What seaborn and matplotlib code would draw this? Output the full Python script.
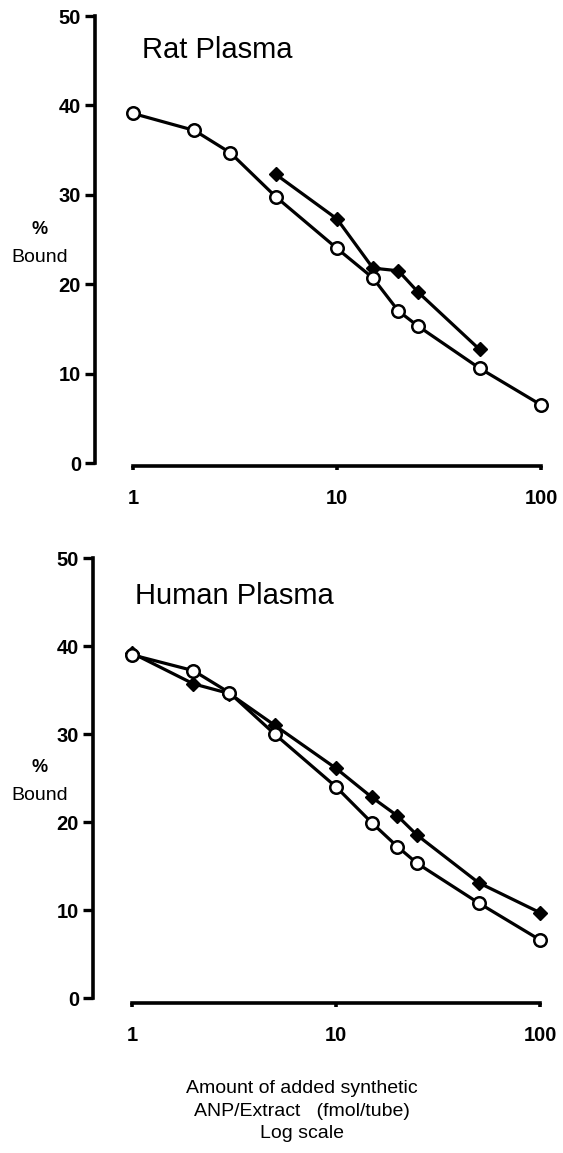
import numpy as np
import pandas as pd
import matplotlib
matplotlib.use("Agg")
import matplotlib.pyplot as plt
import seaborn as sns

# ---- data ----
rat_std_x = [1, 2, 3, 5, 10, 15, 20, 25, 50, 100]
rat_std_y = [39.1, 37.2, 34.7, 29.8, 24.0, 20.7, 17.0, 15.3, 10.6, 6.5]
rat_ext_x = [5, 10, 15, 20, 25, 50]
rat_ext_y = [32.3, 27.3, 21.8, 21.5, 19.1, 12.7]

hum_std_x = [1, 2, 3, 5, 10, 15, 20, 25, 50, 100]
hum_std_y = [39.0, 37.2, 34.7, 30.0, 24.0, 19.9, 17.2, 15.3, 10.8, 6.6]
hum_ext_x = [1, 2, 3, 5, 10, 15, 20, 25, 50, 100]
hum_ext_y = [39.2, 35.7, 34.6, 31.0, 26.1, 22.8, 20.7, 18.5, 13.1, 9.7]

y_ticks = [0, 10, 20, 30, 40, 50]
x_ticks = [1, 10, 100]
x_tick_labels = ["1", "10", "100"]
titles = ["Rat Plasma", "Human Plasma"]

sns.set_theme(style="ticks")
plt.rcParams['font.family'] = ['Liberation Sans', 'DejaVu Sans']
plt.rcParams['text.color'] = 'black'
plt.rcParams['xtick.color'] = 'black'
plt.rcParams['ytick.color'] = 'black'
plt.rcParams['xtick.labelcolor'] = 'black'
plt.rcParams['ytick.labelcolor'] = 'black'

W, H = 563, 1153
fig = plt.figure(figsize=(W / 100, H / 100), dpi=100)

def px_axes(left, right, y0, y50):
    return fig.add_axes([left / W, 1 - y0 / H, (right - left) / W, (y0 - y50) / H])

def style_axes(ax, xlim, outward):
    ax.set_xscale("log")
    ax.set_xlim(*xlim)
    ax.set_ylim(0, 50)
    sns.despine(ax=ax)
    ax.spines["left"].set_bounds(0, 50)
    ax.spines["bottom"].set_bounds(1, 100)
    ax.spines["bottom"].set_position(("outward", outward))
    for s in ("left", "bottom"):
        ax.spines[s].set_linewidth(2.6)
        ax.spines[s].set_color("black")
    ax.set_yticks(y_ticks)
    ax.set_yticklabels([str(v) for v in y_ticks], fontsize=14.5, fontweight="bold",
                       color="black")
    ax.set_xticks(x_ticks)
    ax.set_xticklabels(x_tick_labels, fontsize=14.5, fontweight="bold", color="black")
    ax.xaxis.set_minor_locator(matplotlib.ticker.NullLocator())
    ax.tick_params(axis="y", direction="out", length=7, width=2.4, pad=3, colors="black")
    ax.tick_params(axis="x", direction="out", length=3, width=2.6, pad=14, colors="black")
    ax.set_xlabel("")
    ax.set_ylabel("")
    ax.patch.set_alpha(0)

def draw(ax, xs, ys, filled):
    df = pd.DataFrame({"x": xs, "y": ys})
    if filled:
        sns.lineplot(data=df, x="x", y="y", ax=ax, color="black", linewidth=2.3,
                     marker="D", markersize=7.5, markerfacecolor="black",
                     markeredgecolor="black", markeredgewidth=1, zorder=3)
    else:
        sns.lineplot(data=df, x="x", y="y", ax=ax, color="black", linewidth=2.3,
                     marker="o", markersize=9, markerfacecolor="white",
                     markeredgecolor="black", markeredgewidth=1.8, zorder=4)

# top panel
ax1 = px_axes(95, 548, 463, 16)
draw(ax1, rat_ext_x, rat_ext_y, True)
draw(ax1, rat_std_x, rat_std_y, False)
style_axes(ax1, (10 ** (-38 / 204), 10 ** (2 + 7 / 204)), 2)

# bottom panel
ax2 = px_axes(93, 548, 998, 558)
draw(ax2, hum_ext_x, hum_ext_y, True)
draw(ax2, hum_std_x, hum_std_y, False)
style_axes(ax2, (10 ** (-39 / 204), 10 ** (2 + 8 / 204)), 3.5)

# titles
fig.text(142 / W, 1 - 50 / H, titles[0], fontsize=21, ha="left", va="center",
         color="black")
fig.text(135 / W, 1 - 596 / H, titles[1], fontsize=21, ha="left", va="center",
         color="black")

# y labels
for yp, yb in ((230, 257), (768, 795)):
    fig.text(40 / W, 1 - yp / H, "%", fontsize=13, fontweight="bold",
             ha="center", va="center", color="black")
    fig.text(40 / W, 1 - yb / H, "Bound", fontsize=14,
             ha="center", va="center", color="black")

# x axis title
fig.text(302 / W, 1 - 1111 / H,
         "Amount of added synthetic\nANP/Extract   (fmol/tube)\nLog scale",
         fontsize=14, ha="center", va="center", linespacing=1.4, color="black")

fig.savefig("out.png", dpi=100)
